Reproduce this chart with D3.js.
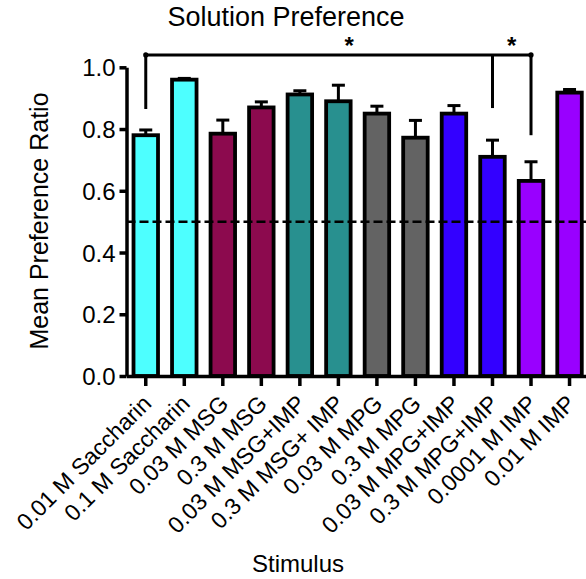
<!DOCTYPE html>
<html lang="en">
  <head>
    <meta charset="utf-8">
    <script src="https://d3js.org/d3.v7.min.js"></script>
    <title>Solution Preference</title>
    <style>
      body { margin: 0; background: #fff; }
      svg { display: block; font-family: "Liberation Sans", Arial, Helvetica, sans-serif; }
      .axis path, .axis line { stroke: #000; stroke-width: 3.5; }
      .axis text { fill: #000; }
    </style>
  </head>
  <body>
    <div class="chartHolder"></div>
    <script>
      const stimuli = ['0.01 M Saccharin', '0.1 M Saccharin', '0.03 M MSG', '0.3 M MSG',
        '0.03 M MSG+IMP', '0.3 M MSG+ IMP', '0.03 M MPG', '0.3 M MPG',
        '0.03 M MPG+IMP', '0.3 M MPG+IMP', '0.0001 M IMP', '0.01 M IMP'];
      const means = [0.78, 0.96, 0.785, 0.87, 0.912, 0.89, 0.85, 0.772, 0.85, 0.71, 0.632, 0.918];
      const sems = [0.017, 0.004, 0.044, 0.018, 0.012, 0.052, 0.024, 0.056, 0.026, 0.054, 0.062, 0.01];
      const barColors = ['#4dffff', '#4dffff', '#8c0a4e', '#8c0a4e', '#28908f', '#28908f',
        '#636363', '#636363', '#3300ff', '#3300ff', '#9900ff', '#9900ff'];
      const yTicks = [0, 0.2, 0.4, 0.6, 0.8, 1.0];
      const chanceLevel = 0.5;
      // bracket: from bar index to bar index, drop ends given in ratio units
      const brackets = [[0, 10]];
      const bracketDrops = [[0, 0.865], [9, 0.868], [10, 0.78]];
      const bracketLevel = 1.04;
      const stars = [5.28, 9.5];

      const W = 586, H = 579;
      const svg = d3.select('.chartHolder').append('svg')
        .attr('width', W).attr('height', H);

      const x = d3.scaleBand().domain(d3.range(stimuli.length)).range([126.5, 588.8]);
      const y = d3.scaleLinear().domain([0, 1]).range([376, 67.3]);
      const cx = (i) => x(i) + x.bandwidth() / 2;
      const barW = 24.5;

      // bars
      svg.selectAll('rect.bar')
        .data(means)
        .enter()
        .append('rect')
          .attr('class', 'bar')
          .attr('x', (d, i) => cx(i) - barW / 2)
          .attr('y', (d) => y(d))
          .attr('width', barW)
          .attr('height', (d) => y(0) - y(d))
          .attr('fill', (d, i) => barColors[i])
          .attr('stroke', '#000')
          .attr('stroke-width', 3.8);

      // error bars (upper only)
      const err = svg.append('g').attr('stroke', '#000').attr('stroke-width', 3);
      means.forEach((m, i) => {
        err.append('line').attr('x1', cx(i)).attr('x2', cx(i))
          .attr('y1', y(m)).attr('y2', y(m + sems[i]));
        err.append('line').attr('x1', cx(i) - 6.5).attr('x2', cx(i) + 6.5)
          .attr('y1', y(m + sems[i])).attr('y2', y(m + sems[i]));
      });

      // chance line
      svg.append('line')
        .attr('x1', x.range()[0]).attr('x2', W)
        .attr('y1', y(chanceLevel)).attr('y2', y(chanceLevel))
        .attr('stroke', '#000').attr('stroke-width', 2.5)
        .attr('stroke-dasharray', '9,4');

      // axes
      svg.append('g').attr('class', 'axis')
        .attr('transform', 'translate(' + x.range()[0] + ',0)')
        .call(d3.axisLeft(y).tickValues(yTicks).tickSize(7).tickSizeOuter(0).tickFormat(d3.format('.1f')))
        .call((g) => g.selectAll('text').attr('font-size', 24).attr('x', -11).attr('dy', '0.36em'));

      svg.append('g').attr('class', 'axis')
        .attr('transform', 'translate(0,' + y(0) + ')')
        .call(d3.axisBottom(x).tickSize(10).tickSizeOuter(0).tickFormat((i) => stimuli[i]))
        .call((g) => g.selectAll('text')
          .attr('font-size', 23)
          .attr('text-anchor', 'end')
          .attr('dy', 0)
          .attr('y', 0)
          .attr('transform', 'translate(7,29) rotate(-45)'));

      // significance bracket
      const sig = svg.append('g').attr('stroke', '#000').attr('stroke-width', 3).attr('fill', 'none');
      brackets.forEach(([a, b]) => {
        sig.append('line').attr('x1', cx(a)).attr('x2', cx(b))
          .attr('y1', y(bracketLevel)).attr('y2', y(bracketLevel));
        [a, b].forEach((i) => svg.append('circle').attr('cx', cx(i)).attr('cy', y(bracketLevel)).attr('r', 2.6));
      });
      bracketDrops.forEach(([i, v]) => {
        sig.append('line').attr('x1', cx(i)).attr('x2', cx(i))
          .attr('y1', y(bracketLevel)).attr('y2', y(v));
      });
      stars.forEach((s) => {
        svg.append('text').attr('x', x.range()[0] + x.step() * (s + 0.5)).attr('y', 54)
          .attr('text-anchor', 'middle').attr('font-size', 24).attr('font-weight', 'bold')
          .text('*');
      });

      // titles
      svg.append('text').attr('x', 286).attr('y', 26).attr('text-anchor', 'middle')
        .attr('font-size', 27).text('Solution Preference');
      svg.append('text').attr('transform', 'translate(48,221) rotate(-90)')
        .attr('text-anchor', 'middle').attr('font-size', 25).text('Mean Preference Ratio');
      svg.append('text').attr('x', 298).attr('y', 572).attr('text-anchor', 'middle')
        .attr('font-size', 24).text('Stimulus');
    </script>
  </body>
</html>
